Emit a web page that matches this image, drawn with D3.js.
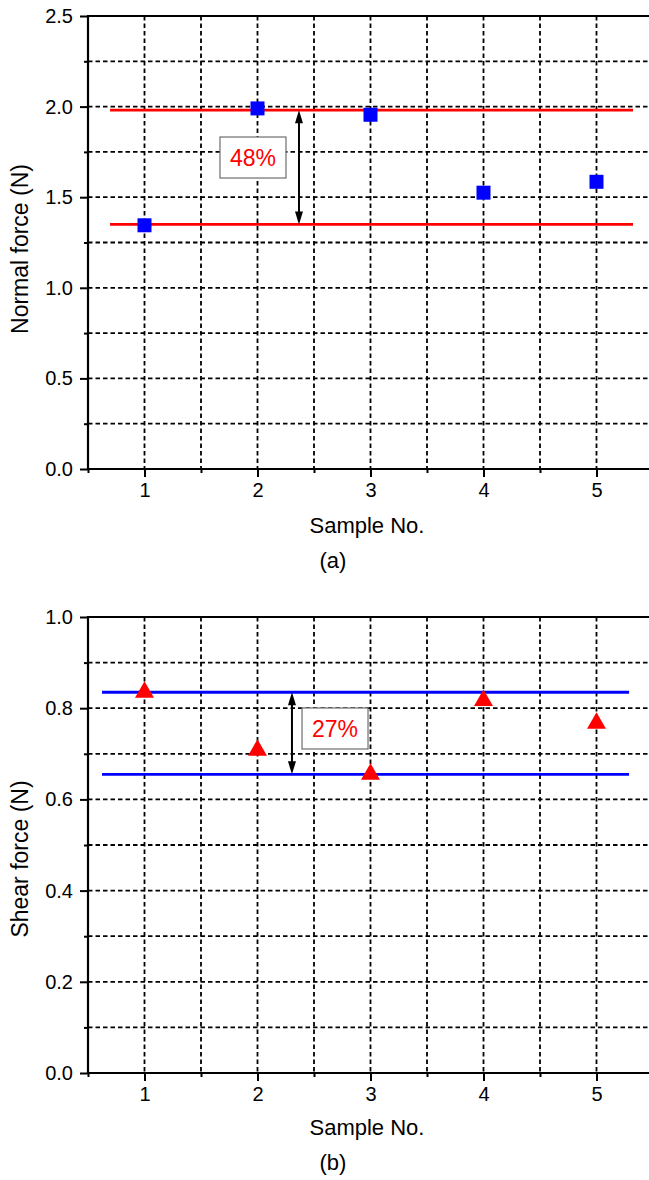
<!DOCTYPE html>
<html>
<head>
<meta charset="utf-8">
<script src="https://cdn.jsdelivr.net/npm/d3@7/dist/d3.min.js"></script>
<style>
  html, body { margin: 0; padding: 0; background: #fff; }
  svg { display: block; font-family: "Liberation Sans", Arial, sans-serif; }
</style>
</head>
<body>
<svg id="chart" width="649" height="1180"></svg>
<script>
// Sample numbers shared by both panels
const samples = [1, 2, 3, 4, 5];

// (a) normal force per sample, N
const normalForce = [1.345, 1.99, 1.955, 1.525, 1.585];
const normalRange = [1.35, 1.98];          // min / max reference lines
const normalTicks = [0, 0.5, 1.0, 1.5, 2.0, 2.5];
const normalSpread = "48%";

// (b) shear force per sample, N
const shearForce = [0.835, 0.708, 0.655, 0.817, 0.767];
const shearRange = [0.655, 0.835];         // min / max reference lines
const shearTicks = [0, 0.2, 0.4, 0.6, 0.8, 1.0];
const shearSpread = "27%";

const svg = d3.select("#chart");
const X_LEFT = 88, X_RIGHT = 653;
const xDomain = [0.5, 5.5];

const panels = [
  {
    values: normalForce, range: normalRange, ticks: normalTicks, spread: normalSpread,
    top: 16, bottom: 469,
    title: "Normal force (N)", titleY: 249, caption: "(a)",
    xTitleY: 533, captionY: 568,
    marker: d3.symbolSquare, markerSize: 196, markerColor: "#0000ff",
    lineColor: "#ff0000", lineExtent: [0.695, 5.323],
    arrowX: 2.367, box: { cx: 1.96, cy: 1.719, w: 66, h: 41 }
  },
  {
    values: shearForce, range: shearRange, ticks: shearTicks, spread: shearSpread,
    top: 617, bottom: 1073,
    title: "Shear force (N)", titleY: 859, caption: "(b)",
    xTitleY: 1135, captionY: 1170,
    marker: d3.symbolTriangle, markerSize: 156, markerColor: "#ff0000",
    lineColor: "#0000ff", lineExtent: [0.624, 5.288],
    arrowX: 2.305, box: { cx: 2.686, cy: 0.7555, w: 66, h: 41 }
  }
];

panels.forEach(drawPanel);

function drawPanel(p) {
  const x = d3.scaleLinear().domain(xDomain).range([X_LEFT, X_RIGHT]);
  const y = d3.scaleLinear()
    .domain([p.ticks[0], p.ticks[p.ticks.length - 1]])
    .range([p.bottom, p.top]);

  const yMinor = p.ticks.slice(1).map((t, i) => (t + p.ticks[i]) / 2);
  const xMinor = [xDomain[0]].concat(samples.map(s => s + 0.5));

  const g = svg.append("g");

  // dashed grid
  const grid = g.append("g")
    .attr("stroke", "#000")
    .attr("stroke-width", 1.8)
    .attr("stroke-dasharray", "4.5,3");
  grid.selectAll(".hg")
    .data(p.ticks.slice(1, -1).concat(yMinor))
    .join("line")
    .attr("x1", x(xDomain[0])).attr("x2", x(xDomain[1]))
    .attr("y1", d => y(d)).attr("y2", d => y(d));
  grid.selectAll(".vg")
    .data(samples.concat(xMinor.slice(1)))
    .join("line")
    .attr("x1", d => x(d)).attr("x2", d => x(d))
    .attr("y1", y.range()[1]).attr("y2", y.range()[0]);

  // axes
  const yAxis = g.append("g")
    .attr("transform", `translate(${X_LEFT},0)`)
    .call(d3.axisLeft(y).tickValues(p.ticks).tickSize(8).tickSizeOuter(0)
      .tickPadding(7).tickFormat(d3.format(".1f")));
  const yAxisMinor = g.append("g")
    .attr("transform", `translate(${X_LEFT},0)`)
    .call(d3.axisLeft(y).tickValues(yMinor).tickSize(4).tickSizeOuter(0).tickFormat(""));
  const xAxis = g.append("g")
    .attr("transform", `translate(0,${p.bottom})`)
    .call(d3.axisBottom(x).tickValues(samples).tickSize(8).tickSizeOuter(0)
      .tickPadding(6).tickFormat(d3.format("d")));
  const xAxisMinor = g.append("g")
    .attr("transform", `translate(0,${p.bottom})`)
    .call(d3.axisBottom(x).tickValues(xMinor).tickSize(4).tickSizeOuter(0).tickFormat(""));

  [yAxis, yAxisMinor, xAxis, xAxisMinor].forEach(a => {
    a.select(".domain").remove();
    a.selectAll(".tick line").attr("stroke", "#000").attr("stroke-width", 2);
    a.selectAll(".tick text").attr("fill", "#000").style("font-size", "20px")
      .style("font-family", "'Liberation Sans', Arial, sans-serif");
  });

  // frame: left, bottom, top
  const frame = g.append("g").attr("stroke", "#000").attr("stroke-width", 2.2);
  frame.append("line").attr("x1", X_LEFT).attr("x2", X_LEFT)
    .attr("y1", p.top - 1).attr("y2", p.bottom + 1);
  frame.append("line").attr("x1", X_LEFT - 1).attr("x2", X_RIGHT)
    .attr("y1", p.bottom).attr("y2", p.bottom);
  frame.append("line").attr("x1", X_LEFT - 1).attr("x2", X_RIGHT)
    .attr("y1", p.top).attr("y2", p.top);

  // min / max reference lines
  g.append("g").selectAll("line")
    .data(p.range)
    .join("line")
    .attr("x1", x(p.lineExtent[0])).attr("x2", x(p.lineExtent[1]))
    .attr("y1", d => y(d)).attr("y2", d => y(d))
    .attr("stroke", p.lineColor).attr("stroke-width", 2.8);

  // double-headed arrow between the reference lines
  const ax = x(p.arrowX), ay1 = y(p.range[1]), ay2 = y(p.range[0]);
  const headL = 13, headW = 4;
  const arrow = g.append("g");
  arrow.append("line")
    .attr("x1", ax).attr("x2", ax)
    .attr("y1", ay1 + headL - 2).attr("y2", ay2 - headL + 2)
    .attr("stroke", "#000").attr("stroke-width", 2);
  arrow.append("path")
    .attr("d", `M${ax},${ay1} L${ax - headW},${ay1 + headL} L${ax + headW},${ay1 + headL} Z`)
    .attr("fill", "#000");
  arrow.append("path")
    .attr("d", `M${ax},${ay2} L${ax - headW},${ay2 - headL} L${ax + headW},${ay2 - headL} Z`)
    .attr("fill", "#000");

  // spread label box
  const bx = x(p.box.cx), by = y(p.box.cy);
  g.append("rect")
    .attr("x", bx - p.box.w / 2).attr("y", by - p.box.h / 2)
    .attr("width", p.box.w).attr("height", p.box.h)
    .attr("fill", "#fff").attr("stroke", "#6e6e6e").attr("stroke-width", 1.2);
  g.append("text")
    .attr("x", bx).attr("y", by).attr("dy", "0.36em")
    .attr("text-anchor", "middle")
    .attr("fill", "#ff0000")
    .style("font-size", "23px")
    .text(p.spread);

  // data markers
  g.append("g").selectAll("path")
    .data(p.values.map((v, i) => [samples[i], v]))
    .join("path")
    .attr("transform", d => `translate(${x(d[0])},${y(d[1])})`)
    .attr("d", d3.symbol().type(p.marker).size(p.markerSize))
    .attr("fill", p.markerColor);

  // titles
  g.append("text")
    .attr("transform", `translate(20,${p.titleY}) rotate(-90)`)
    .attr("dy", "0.36em")
    .attr("text-anchor", "middle")
    .style("font-size", "23px")
    .text(p.title);
  g.append("text")
    .attr("x", 367).attr("y", p.xTitleY)
    .attr("text-anchor", "middle")
    .style("font-size", "22px")
    .text("Sample No.");
  g.append("text")
    .attr("x", 333).attr("y", p.captionY)
    .attr("text-anchor", "middle")
    .style("font-size", "22px")
    .text(p.caption);
}
</script>
</body>
</html>
